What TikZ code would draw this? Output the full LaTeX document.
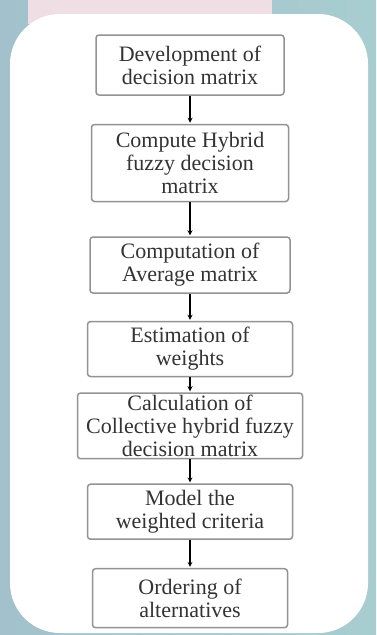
\documentclass[tikz,border=0pt]{standalone}
\usepackage{fontspec}
\setmainfont{Liberation Serif}
\usetikzlibrary{positioning}
\definecolor{bgblue}{HTML}{A2C1CC}
\definecolor{bgteal}{HTML}{A8CDD0}
\definecolor{bgpink}{HTML}{EBD6DD}
\begin{document}
\begin{tikzpicture}[x=1pt, y=-1pt, node distance=28pt, >=stealth]
    \tikzstyle{stage} = [rectangle, draw=gray!85, line width=1.5pt, rounded corners=3pt, fill=white, align=center, font=\fontsize{22}{23}\selectfont, text=black!80, inner sep=2pt, minimum height=55pt]
    \tikzstyle{link} = [->, line width=1.2pt, shorten >=1pt]
    % background
    \useasboundingbox (0,0) rectangle (376,635);
    \shade [left color=bgblue, right color=bgteal] (0,0) rectangle (376,635);
    \fill [bgpink!80] (28,0) rectangle (272,24);
    \fill [white, rounded corners=50pt] (10,14) rectangle (368,633);

    \node [stage, minimum width=188pt, minimum height=60pt] (dm) at (190,65) {Development of\\decision matrix};
    \node [stage, minimum width=197pt, minimum height=77pt, below=28pt of dm] (hf) {Compute Hybrid\\fuzzy decision\\matrix};
    \node [stage, minimum width=200pt, minimum height=56pt, below=34pt of hf] (am) {Computation of\\Average matrix};
    \node [stage, minimum width=205pt, below=27pt of am] (wt) {Estimation of\\weights};
    \node [stage, minimum width=225pt, minimum height=65pt, below=15pt of wt] (cm) {Calculation of\\Collective hybrid fuzzy\\decision matrix};
    \node [stage, minimum width=205pt, below=24pt of cm] (wc) {Model the\\weighted criteria};
    \node [stage, minimum width=195pt, minimum height=59pt, below=28pt of wc] (oa) {Ordering of\\alternatives};

    \draw [link] (dm) -- (hf);
    \draw [link] (hf) -- (am);
    \draw [link] (am) -- (wt);
    \draw [link] (wt) -- (cm);
    \draw [link] (cm) -- (wc);
    \draw [link] (wc) -- (oa);
\end{tikzpicture}
\end{document}
